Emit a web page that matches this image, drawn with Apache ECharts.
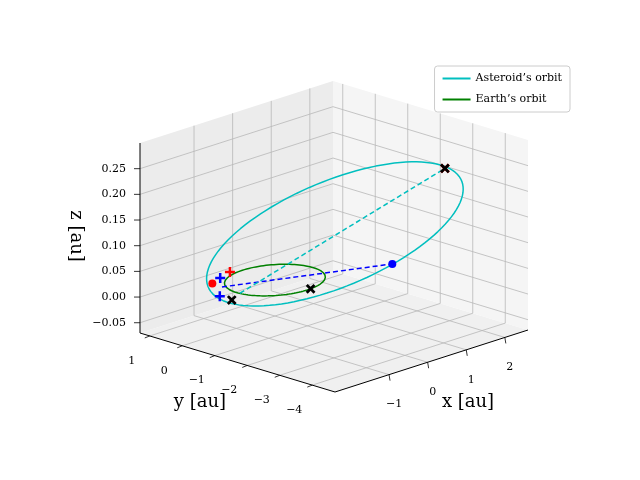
<!DOCTYPE html>
<html>
<head>
<meta charset="utf-8">
<title></title>
<style>body{margin:0}</style>
</head>
<body>
<div id='chart' style="width:640px;height:480px;"></div>
<script src='https://cdn.jsdelivr.net/npm/echarts@6/dist/echarts.min.js'></script>
<script>
// data: axis ranges and ticks
var xRange = [-2.4, 2.6], yRange = [-4.7, 1.3], zRange = [-0.07, 0.30];
var xTicks = [-1, 0, 1, 2];
var yTicks = [-4, -3, -2, -1, 0, 1];
var zTicks = [-0.05, 0, 0.05, 0.10, 0.15, 0.20, 0.25];
var zTickLabels = ['\u22120.05', '0.00', '0.05', '0.10', '0.15', '0.20', '0.25'];

// orbits: asteroid ellipse (centre, two conjugate semi-diameters), earth radius
var astCentre = [0.645, -1.08, 0.095];
var astMajor = [1.44, -2.22, 0.105];
var astMinor = [1.26, 1.87, 0.035];
var earthRadius = 1.0;

// markers (x, y, z)
var redDot = [[-0.93, 0.82, 0]];
var blueDot = [[1.08, -2.33, 0.05]];
var blackX = [[2.51, -2.25, 0.2], [0.087, -0.996, 0], [-1.37, -0.3, 0]];
var redX = [[2.51, -2.25, 0.2]];
var bluePlus = [[-0.6, 0.97, 0], [-1.36, 0.08, 0]];
var redPlus = [[-0.23, 1.11, 0]];
var blueDash = [[-0.95, 0.5, 0], [1.08, -2.33, 0.05]];
var cyanDash = [[-1.2, -0.35, 0.01], [2.51, -2.25, 0.2]];

// projection of the matplotlib 3d box onto the page
var front = [335, 392], toRight = [193, -62], toLeft = [-195, -59], up = 190;
function P(x, y, z) {
	var u = (x - xRange[0]) / (xRange[1] - xRange[0]);
	var v = (y - yRange[0]) / (yRange[1] - yRange[0]);
	var w = (z - zRange[0]) / (zRange[1] - zRange[0]);
	return [front[0] + u * toRight[0] + v * toLeft[0], front[1] + u * toRight[1] + v * toLeft[1] - w * up];
}
function proj(list) { return list.map(function (p) { return P(p[0], p[1], p[2]); }); }

var astPts = [], earthPts = [];
for (var d = 0; d <= 360; d += 3) {
	var E = d * Math.PI / 180, c = Math.cos(E), s = Math.sin(E);
	astPts.push([0, 1, 2].map(function (k) { return astCentre[k] + astMajor[k] * c + astMinor[k] * s; }));
	earthPts.push([earthRadius * c, earthRadius * s, 0]);
}

var X0 = xRange[0], X1 = xRange[1], Y0 = yRange[0], Y1 = yRange[1], Z0 = zRange[0], Z1 = zRange[1];

function box(params, api) {
	var ch = [];
	function pt(x, y, z) { return api.coord(P(x, y, z)); }
	function poly(pts, fill) {
		ch.push({ type: 'polygon', shape: { points: pts }, style: { fill: fill, stroke: 'none' } });
	}
	function seg(a, b, col, wdt) {
		ch.push({ type: 'line', shape: { x1: a[0], y1: a[1], x2: b[0], y2: b[1] }, style: { stroke: col, lineWidth: wdt || 0.8 } });
	}
	function txt(p, t, align, size, rot) {
		ch.push({ type: 'text', x: p[0], y: p[1], rotation: rot || 0, style: { text: t, align: align || 'center', verticalAlign: 'middle', fontFamily: 'DejaVu Serif', fontSize: size || 11, fill: '#000' } });
	}
	poly([pt(X0, Y0, Z0), pt(X1, Y0, Z0), pt(X1, Y1, Z0), pt(X0, Y1, Z0)], '#f0f0f0');
	poly([pt(X0, Y1, Z0), pt(X1, Y1, Z0), pt(X1, Y1, Z1), pt(X0, Y1, Z1)], '#ececec');
	poly([pt(X1, Y0, Z0), pt(X1, Y1, Z0), pt(X1, Y1, Z1), pt(X1, Y0, Z1)], '#f5f5f5');
	var g = '#b8b8b8';
	xTicks.forEach(function (x) {
		seg(pt(x, Y0, Z0), pt(x, Y1, Z0), g); seg(pt(x, Y1, Z0), pt(x, Y1, Z1), g);
		var a = pt(x, Y0, Z0); seg(a, [a[0] + 1, a[1] + 6], '#000');
		txt([a[0] + 5, a[1] + 30], (x < 0 ? '\u2212' + (-x) : '' + x));
	});
	yTicks.forEach(function (y) {
		seg(pt(X0, y, Z0), pt(X1, y, Z0), g); seg(pt(X1, y, Z0), pt(X1, y, Z1), g);
		var a = pt(X0, y, Z0); seg(a, [a[0] - 5, a[1] + 2], '#000');
		txt([a[0] - 18, a[1] + 25], (y < 0 ? '\u2212' + (-y) : '' + y));
	});
	zTicks.forEach(function (z, i) {
		seg(pt(X0, Y1, z), pt(X1, Y1, z), g); seg(pt(X1, Y1, z), pt(X1, Y0, z), g);
		var a = pt(X0, Y1, z); seg(a, [a[0] - 6, a[1]], '#000');
		txt([a[0] - 14, a[1]], zTickLabels[i], 'right');
	});
	seg(pt(X0, Y0, Z0), pt(X1, Y0, Z0), '#000', 1);
	seg(pt(X0, Y0, Z0), pt(X0, Y1, Z0), '#000', 1);
	seg(pt(X0, Y1, Z0), pt(X0, Y1, Z1), '#000', 1);
	txt(api.coord([468, 402]), 'x [au]', 'center', 18);
	txt(api.coord([200, 402]), 'y [au]', 'center', 18);
	txt(api.coord([76, 236]), 'z [au]', 'center', 18, -Math.PI / 2);
	return { type: 'group', children: ch };
}

var plus = 'path://M3,0h2v3h3v2h-3v3h-2v-3h-3v-2h3z';
var solid = { opacity: 1 };
var option = {
	animation: false,
	textStyle: { fontFamily: 'DejaVu Serif' },
	grid: { left: 0, right: 0, top: 0, bottom: 0 },
	xAxis: { type: 'value', min: 0, max: 640, show: false },
	yAxis: { type: 'value', min: 0, max: 480, inverse: true, show: false },
	legend: {
		right: 70, top: 66, orient: 'vertical', itemWidth: 28, itemHeight: 2, icon: 'rect',
		backgroundColor: '#fff', borderColor: '#ccc', borderWidth: 1, borderRadius: 3, padding: [7, 8], itemGap: 10,
		textStyle: { fontFamily: 'DejaVu Serif', fontSize: 11, color: '#000' },
		data: ['Asteroid\u2019s orbit', 'Earth\u2019s orbit']
	},
	series: [
		{ type: 'custom', renderItem: box, data: [0], silent: true, z: 0 },
		{ name: 'Asteroid\u2019s orbit', type: 'line', data: proj(astPts), showSymbol: false, color: '#00bfbf', lineStyle: { width: 1.5 }, z: 2 },
		{ name: 'Earth\u2019s orbit', type: 'line', data: proj(earthPts), showSymbol: false, color: '#008000', lineStyle: { width: 1.5 }, z: 2 },
		{ type: 'line', data: proj(blueDash), showSymbol: false, color: '#0000ff', lineStyle: { width: 1.5, type: [5, 3] }, z: 3 },
		{ type: 'line', data: proj(cyanDash), showSymbol: false, color: '#00bfbf', lineStyle: { width: 1.5, type: [5, 3] }, z: 3 },
		{ type: 'scatter', data: proj(redDot), symbolSize: 8, color: '#ff0000', itemStyle: solid, z: 4 },
		{ type: 'scatter', data: proj(blueDot), symbolSize: 8, color: '#0000ff', itemStyle: solid, z: 4 },
		{ type: 'scatter', data: proj(redX), symbol: plus, symbolSize: 11, symbolRotate: 45, color: '#ff0000', itemStyle: solid, z: 4 },
		{ type: 'scatter', data: proj(blackX), symbol: plus, symbolSize: 11, symbolRotate: 45, color: '#000', itemStyle: solid, z: 5 },
		{ type: 'scatter', data: proj(bluePlus), symbol: plus, symbolSize: 10, color: '#0000ff', itemStyle: solid, z: 5 },
		{ type: 'scatter', data: proj(redPlus), symbol: plus, symbolSize: 10, color: '#ff0000', itemStyle: solid, z: 5 }
	]
};
var chart = echarts.init(document.getElementById('chart'));
chart.setOption(option);
</script>
</body>
</html>
